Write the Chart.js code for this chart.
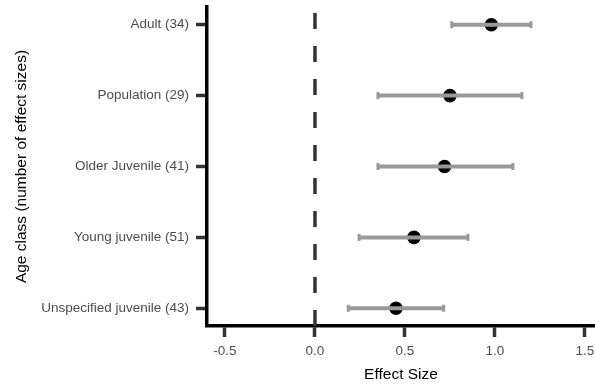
<!DOCTYPE html>
<html>
<head>
<meta charset="utf-8">
<script src="https://cdn.jsdelivr.net/npm/chart.js@4/dist/chart.umd.min.js"></script>
<style>
  body { margin: 0; background: #fff; }
  #wrap { width: 595px; height: 386px; }
</style>
</head>
<body>
<div id="wrap"><canvas id="chart"></canvas></div>
<script>
// categories top to bottom, as in the figure
let categorias = ['Adult (34)', 'Population (29)', 'Older Juvenile (41)', 'Young juvenile (51)', 'Unspecified juvenile (43)'];
let efeito = [0.98, 0.75, 0.72, 0.55, 0.45];
let ciBaixo = [0.76, 0.35, 0.35, 0.245, 0.185];
let ciAlto = [1.20, 1.15, 1.10, 0.85, 0.715];
let xTicks = [-0.5, 0.0, 0.5, 1.0, 1.5];

let cinza = '#999999';
let n = categorias.length;
let posY = categorias.map((c, i) => n - i);

let datasets = [];

// error bars (drawn on top of the points)
for (let i = 0; i < n; i++) {
    datasets.push({
        type: 'line',
        data: [{ x: ciBaixo[i], y: posY[i] }, { x: ciAlto[i], y: posY[i] }],
        borderColor: cinza,
        borderWidth: 4,
        pointStyle: 'line',
        rotation: 90,
        pointRadius: 3.5,
        pointBorderWidth: 3,
        pointBorderColor: cinza,
        order: 0
    });
}

datasets.push({
    type: 'scatter',
    data: efeito.map((v, i) => ({ x: v, y: posY[i] })),
    backgroundColor: '#000000',
    borderWidth: 0,
    pointRadius: 6.8,
    order: 1
});

// dashed reference line at zero
datasets.push({
    type: 'line',
    data: [{ x: 0, y: 0.75 }, { x: 0, y: 5.25 }],
    borderColor: '#333333',
    borderWidth: 3.5,
    borderDash: [16, 17],
    pointRadius: 0,
    order: 2
});

let fonte = '"Liberation Sans", Arial, Helvetica, sans-serif';

let ctx = document.getElementById('chart').getContext('2d');
let chart = new Chart(ctx, {
    type: 'scatter',
    data: { datasets: datasets },
    options: {
        responsive: true,
        maintainAspectRatio: false,
        animation: false,
        layout: { autoPadding: false, padding: { top: 7, right: 0, left: 0, bottom: 0 } },
        plugins: { legend: { display: false }, tooltip: { enabled: false } },
        scales: {
            x: {
                type: 'linear',
                min: -0.6,
                max: 1.556,
                afterBuildTicks: (s) => { s.ticks = xTicks.map(v => ({ value: v })); },
                afterFit: (s) => { s.height = 60; s.paddingRight = 0; s.paddingLeft = 0; },
                ticks: {
                    color: '#4d4d4d',
                    font: { family: fonte, size: 13.5 },
                    padding: 6,
                    maxRotation: 0,
                    callback: (v) => v.toFixed(1)
                },
                grid: { display: true, drawOnChartArea: false, drawTicks: true, tickLength: 11, tickColor: '#333333', tickWidth: 3.5 },
                border: { display: true, color: '#000000', width: 3.5 },
                title: {
                    display: true,
                    text: 'Effect Size',
                    color: '#000000',
                    font: { family: fonte, size: 15.5, lineHeight: 1.2 },
                    padding: { top: 0, bottom: 2 }
                }
            },
            y: {
                type: 'linear',
                min: 0.75,
                max: 5.25,
                afterBuildTicks: (s) => { s.ticks = posY.map(v => ({ value: v })); },
                afterFit: (s) => { s.width = 207; s.paddingTop = 0; s.paddingBottom = 0; },
                ticks: {
                    color: '#4d4d4d',
                    font: { family: fonte, size: 13.5 },
                    padding: 7,
                    callback: (v) => categorias[n - v]
                },
                grid: { display: true, drawOnChartArea: false, drawTicks: true, tickLength: 11, tickColor: '#333333', tickWidth: 3.5 },
                border: { display: true, color: '#000000', width: 3.5 },
                title: {
                    display: true,
                    text: 'Age class (number of effect sizes)',
                    color: '#000000',
                    font: { family: fonte, size: 15.5, lineHeight: 1.2 },
                    padding: { top: 12, bottom: 0 }
                }
            }
        }
    }
});
</script>
</body>
</html>
